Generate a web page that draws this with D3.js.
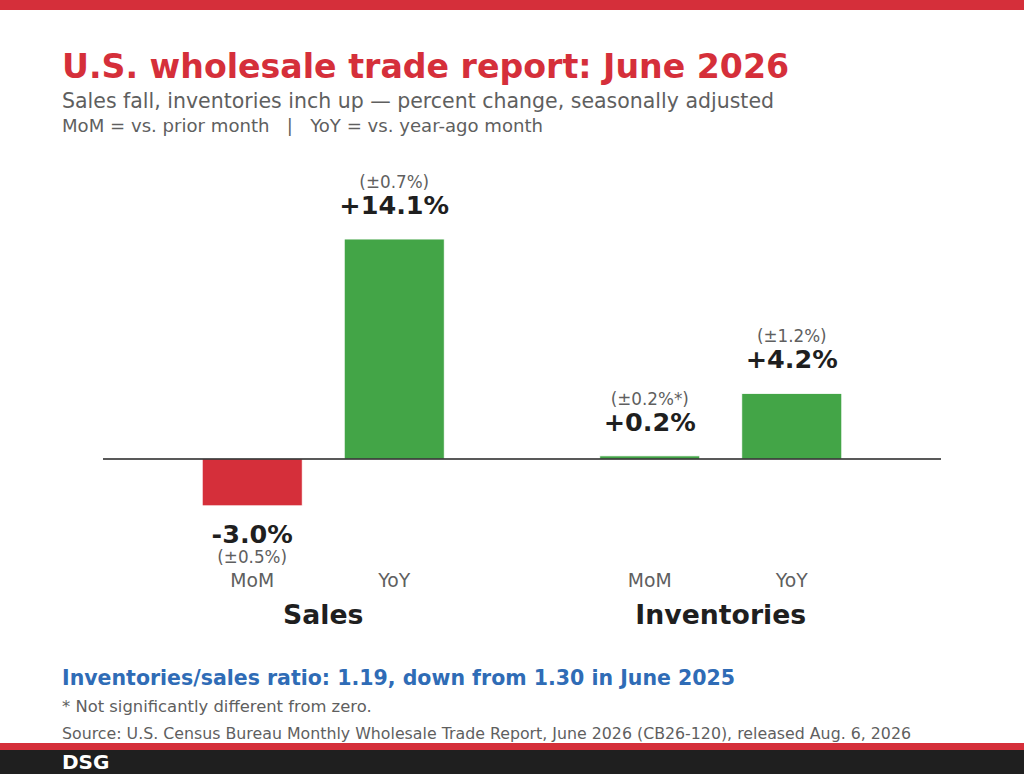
<!DOCTYPE html>
<html><head><meta charset="utf-8">
<script src="https://cdn.jsdelivr.net/npm/d3@7"></script>
<style>html,body{margin:0;padding:0;background:#fff;}svg{display:block;font-family:"DejaVu Sans",sans-serif;}</style>
</head><body>
<svg id="c" width="1024" height="774"></svg>
<script>
const groups = ["Sales", "Inventories"];
const measures = ["MoM", "YoY"];
const salesValues = [-3.0, 14.1];
const inventoryValues = [0.2, 4.2];
const salesMargins = ["(±0.5%)", "(±0.7%)"];
const inventoryMargins = ["(±0.2%*)", "(±1.2%)"];

const data = [];
groups.forEach((g, gi) => {
  const vals = gi === 0 ? salesValues : inventoryValues;
  const mos = gi === 0 ? salesMargins : inventoryMargins;
  measures.forEach((m, mi) => data.push({group: g, measure: m, value: vals[mi], moe: mos[mi]}));
});

const RED = "#d52f3a", GREEN = "#43a547", DARK = "#1f1f1f", GRAY = "#5f5f5f", BLUE = "#2f6cb6";
const svg = d3.select("#c");

// frame
svg.append("rect").attr("x",0).attr("y",0).attr("width",1024).attr("height",10).attr("fill",RED);
svg.append("rect").attr("x",0).attr("y",743).attr("width",1024).attr("height",7).attr("fill",RED);
svg.append("rect").attr("x",0).attr("y",750).attr("width",1024).attr("height",24).attr("fill",DARK);
svg.append("text").attr("x",62).attr("y",769).attr("fill","#fff").attr("font-weight","bold").attr("font-size",20).text("DSG");

// titles
svg.append("text").attr("x",62).attr("y",78).attr("fill",RED).attr("font-weight","bold").attr("font-size",33.2).text("U.S. wholesale trade report: June 2026");
svg.append("text").attr("x",62).attr("y",108).attr("fill",GRAY).attr("font-size",20.5).text("Sales fall, inventories inch up — percent change, seasonally adjusted");
svg.append("text").attr("x",62).attr("y",132).attr("fill",GRAY).attr("font-size",18.1).attr("xml:space","preserve").text("MoM = vs. prior month   |   YoY = vs. year-ago month");

// scales
const y = d3.scaleLinear().domain([-6, 16]).range([459 + 6*15.6, 459 - 16*15.6]);
const xg = d3.scalePoint().domain(groups).range([103, 941]).padding(0.554);
const xm = d3.scaleBand().domain(measures).range([-121, 121]).paddingInner(0.296).paddingOuter(0);
const bw = xm.bandwidth();
const cx = d => xg(d.group) + xm(d.measure) + bw/2;

const g = svg.append("g");
g.selectAll("rect.bar").data(data).join("rect").attr("class","bar")
  .attr("x", d => xg(d.group) + xm(d.measure))
  .attr("width", bw)
  .attr("y", d => y(Math.max(0, d.value)))
  .attr("height", d => Math.abs(y(d.value) - y(0)))
  .attr("fill", d => d.value < 0 ? RED : GREEN)
  .attr("stroke","#fff").attr("stroke-width",0.8);

// zero line
g.append("line").attr("x1",103).attr("x2",941).attr("y1",y(0)).attr("y2",y(0)).attr("stroke","#222").attr("stroke-width",1.6);

const fmt = v => (v > 0 ? "+" : "") + v.toFixed(1) + "%";
data.forEach(d => {
  if (d.value >= 0) {
    const top = y(d.value);
    g.append("text").attr("x",cx(d)).attr("y",top-25).attr("text-anchor","middle").attr("font-weight","bold").attr("font-size",25.5).attr("fill",DARK).text(fmt(d.value));
    g.append("text").attr("x",cx(d)).attr("y",top-51).attr("text-anchor","middle").attr("font-size",16.8).attr("fill",GRAY).text(d.moe);
  } else {
    const bot = y(d.value);
    g.append("text").attr("x",cx(d)).attr("y",bot+37).attr("text-anchor","middle").attr("font-weight","bold").attr("font-size",25.5).attr("fill",DARK).text(fmt(d.value));
    g.append("text").attr("x",cx(d)).attr("y",bot+57).attr("text-anchor","middle").attr("font-size",16.8).attr("fill",GRAY).text(d.moe);
  }
  g.append("text").attr("x",cx(d)).attr("y",587).attr("text-anchor","middle").attr("font-size",18.8).attr("fill",GRAY).text(d.measure);
});
groups.forEach(gr => {
  g.append("text").attr("x",xg(gr)).attr("y",624).attr("text-anchor","middle").attr("font-weight","bold").attr("font-size",26.7).attr("fill",DARK).text(gr);
});

// footer
svg.append("text").attr("x",62).attr("y",685).attr("fill",BLUE).attr("font-weight","bold").attr("font-size",20.5).text("Inventories/sales ratio: 1.19, down from 1.30 in June 2025");
svg.append("text").attr("x",62).attr("y",712).attr("fill",GRAY).attr("font-size",16.4).text("* Not significantly different from zero.");
svg.append("text").attr("x",62).attr("y",739).attr("fill",GRAY).attr("font-size",15.8).text("Source: U.S. Census Bureau Monthly Wholesale Trade Report, June 2026 (CB26-120), released Aug. 6, 2026");
</script>
</body></html>
